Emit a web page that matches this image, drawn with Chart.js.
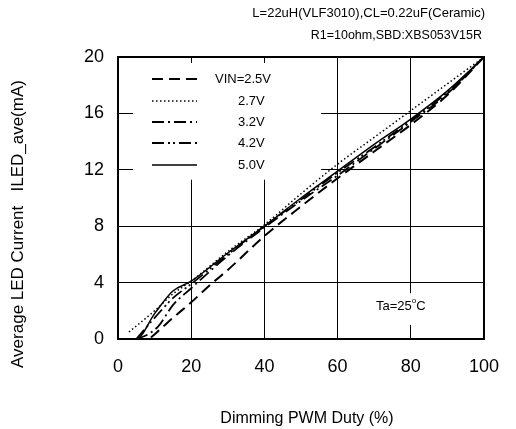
<!DOCTYPE html>
<html>
<head>
<meta charset="utf-8">
<script src="https://cdn.jsdelivr.net/npm/chart.js@4/dist/chart.umd.min.js"></script>
<style>
html,body{margin:0;padding:0;background:#fff;}
#c{display:block;}
</style>
</head>
<body>
<canvas id="c" width="516" height="429"></canvas>
<script>
// ---- data ----
const seriesLabels = ["VIN=2.5V", "2.7V", "3.2V", "4.2V", "5.0V"];
const xTicks = [0, 20, 40, 60, 80, 100];
const yTicks = [0, 4, 8, 12, 16, 20];

const duty25 = [9, 12, 15, 20, 25, 30, 40, 50, 60, 70, 80, 90, 100];
const cur25  = [0.1, 0.8, 1.5, 2.6, 3.8, 4.9, 7.3, 9.4, 11.4, 13.3, 15.2, 17.3, 20.0];

const duty27 = [3, 10, 15, 20, 30, 40, 50, 60, 70, 80, 90, 100];
const cur27  = [0.5, 2.0, 3.2, 4.1, 6.2, 8.1, 10.3, 12.4, 14.3, 16.2, 18.1, 20.0];

const duty32 = [5, 8, 11, 15, 20, 30, 40, 50, 60, 70, 80, 90, 100];
const cur32  = [0.0, 0.3, 0.9, 2.4, 3.6, 5.9, 7.9, 9.8, 11.6, 13.5, 15.4, 17.4, 20.0];

const duty42 = [5, 10, 15, 20, 30, 40, 50, 60, 70, 80, 90, 100];
const cur42  = [0.0, 1.5, 2.9, 3.9, 6.0, 8.0, 9.9, 11.8, 13.6, 15.5, 17.5, 20.0];

const duty50 = [1, 5, 10, 15, 20, 30, 40, 50, 60, 70, 80, 90, 100];
const cur50  = [0.0, 0.0, 1.8, 3.4, 4.1, 6.1, 8.0, 10.0, 11.9, 13.8, 15.6, 17.6, 20.0];

const dutyArrays = [duty25, duty27, duty32, duty42, duty50];
const curArrays  = [cur25, cur27, cur32, cur42, cur50];

// ---- styles ----
const dashes = [[11, 6], [1.5, 2.5], [12, 4, 2, 4], [12, 4, 2, 3, 2, 4], []];
const widths = [2, 1.5, 1.8, 1.8, 1.5];
const FONT = "'Liberation Sans', Arial, sans-serif";

function pts(xs, ys) { return xs.map((x, i) => ({x: x, y: ys[i]})); }

const datasets = seriesLabels.map((lab, i) => ({
  label: lab,
  data: pts(dutyArrays[i], curArrays[i]),
  borderColor: '#000',
  backgroundColor: '#000',
  borderWidth: widths[i],
  borderDash: dashes[i],
  pointRadius: 0,
  fill: false,
  cubicInterpolationMode: 'monotone',
  clip: 4
}));

const overlay = {
  id: 'overlay',
  beforeDatasetsDraw(chart) {
    const ctx = chart.ctx;
    const a = chart.chartArea;
    const xs = chart.scales.x, ys = chart.scales.y;
    ctx.save();
    ctx.fillStyle = '#fff';
    // legend box background (hides grid, leaves inner tick stubs)
    const lx0 = a.left + 15, lx1 = xs.getPixelForValue(55.5);
    const ly0 = a.top + 6, ly1 = ys.getPixelForValue(11.3);
    ctx.fillRect(lx0, ly0, lx1 - lx0, ly1 - ly0);
    // Ta label background
    const tx0 = xs.getPixelForValue(66.3), tx1 = xs.getPixelForValue(81.2);
    const ty0 = ys.getPixelForValue(3.25), ty1 = ys.getPixelForValue(1.0);
    ctx.fillRect(tx0, ty0, tx1 - tx0, ty1 - ty0);
    ctx.restore();
  },
  afterDatasetsDraw(chart) {
    const ctx = chart.ctx;
    const a = chart.chartArea;
    ctx.save();
    // frame
    ctx.strokeStyle = '#000';
    ctx.lineWidth = 2;
    ctx.setLineDash([]);
    ctx.strokeRect(a.left, a.top, a.right - a.left, a.bottom - a.top);

    // legend
    const rowY = [79, 101, 122, 143, 165];
    const textX = [215, 238, 238, 238, 238];
    ctx.font = "13px " + FONT;
    ctx.textBaseline = 'middle';
    ctx.textAlign = 'left';
    ctx.fillStyle = '#000';
    for (let i = 0; i < seriesLabels.length; i++) {
      ctx.beginPath();
      ctx.lineWidth = widths[i];
      ctx.setLineDash(dashes[i]);
      ctx.moveTo(152, rowY[i]);
      ctx.lineTo(197, rowY[i]);
      ctx.stroke();
      ctx.setLineDash([]);
      ctx.fillText(seriesLabels[i], textX[i], rowY[i]);
    }

    // Ta annotation
    ctx.font = "13px " + FONT;
    ctx.textAlign = 'left';
    const tx = 376;
    ctx.fillText("Ta=25", tx, 306);
    const w = ctx.measureText("Ta=25").width;
    ctx.font = "8px " + FONT;
    ctx.fillText("o", tx + w, 301);
    const w2 = ctx.measureText("o").width;
    ctx.font = "13px " + FONT;
    ctx.fillText("C", tx + w + w2, 306);

    // top notes
    ctx.textAlign = 'right';
    ctx.font = "13px " + FONT;
    ctx.fillText("L=22uH(VLF3010),CL=0.22uF(Ceramic)", 485, 13);
    ctx.font = "12.5px " + FONT;
    ctx.fillText("R1=10ohm,SBD:XBS053V15R", 482, 36);

    // axis titles
    ctx.textAlign = 'center';
    ctx.font = "16px " + FONT;
    ctx.fillText("Dimming PWM Duty (%)", 307, 419);
    ctx.translate(18, 224);
    ctx.rotate(-Math.PI / 2);
    ctx.font = "17px " + FONT;
    ctx.fillText("Average LED Current   ILED_ave(mA)", 0, 0);
    ctx.restore();
  }
};

new Chart(document.getElementById('c'), {
  type: 'line',
  data: { datasets: datasets },
  options: {
    responsive: false,
    animation: false,
    layout: { padding: { top: 57, right: 18, left: 0, bottom: 0 } },
    plugins: { legend: { display: false }, tooltip: { enabled: false } },
    scales: {
      x: {
        type: 'linear',
        min: xTicks[0], max: xTicks[xTicks.length - 1],
        afterFit(s) { s.height = 90; },
        afterBuildTicks(s) { s.ticks = xTicks.map(v => ({value: v})); },
        grid: { color: '#000', lineWidth: 1, drawTicks: false },
        border: { display: true, color: '#000', width: 2 },
        ticks: { color: '#000', font: { size: 18, family: FONT }, padding: 17, maxRotation: 0 }
      },
      y: {
        type: 'linear',
        min: yTicks[0], max: yTicks[yTicks.length - 1],
        afterFit(s) { s.width = 118; },
        afterBuildTicks(s) { s.ticks = yTicks.map(v => ({value: v})); },
        grid: { color: '#000', lineWidth: 1, drawTicks: false },
        border: { display: true, color: '#000', width: 2 },
        ticks: { color: '#000', font: { size: 18, family: FONT }, padding: 14 }
      }
    }
  },
  plugins: [overlay]
});
</script>
</body>
</html>
